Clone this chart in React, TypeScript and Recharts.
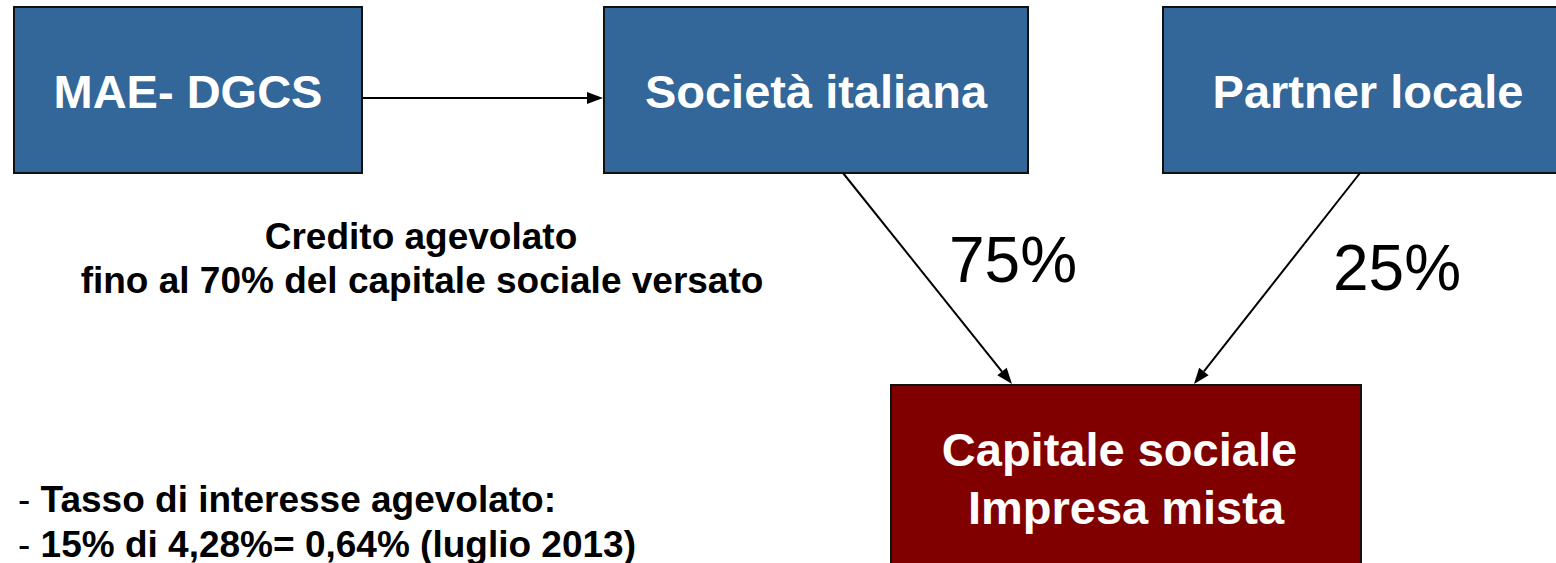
import React from "react"
import { ScatterChart, Scatter, XAxis, YAxis, ReferenceArea, ReferenceLine } from "recharts"

// nodes of the scheme (extents, in slide pixels)
const nodeNames = ["MAE- DGCS", "Società italiana", "Partner locale", "Capitale sociale\u00a0\nImpresa mista"]
const nodeLeft = [14, 604, 1163, 891]
const nodeRight = [362, 1028, 1573, 1361]
const nodeTop = [7, 7, 7, 385]
const nodeBottom = [173, 173, 173, 568]
const nodeKind = ["ente", "ente", "ente", "impresa"]

// arrows between nodes
const flowFrom = [
  { x: 363, y: 98 },
  { x: 843, y: 173 },
  { x: 1360, y: 173 },
]
const flowTo = [
  { x: 603, y: 98 },
  { x: 1012, y: 384 },
  { x: 1194, y: 384 },
]

// quote shares on the arrows
const shareLabels = ["75%", "25%"]
const shareX = [1013, 1397]
const shareY = [282, 290]

// notes
const creditLines = ["Credito agevolato", "fino al 70% del capitale sociale versato"]
const creditX = [421, 422]
const creditY = [249, 293]

const rateLines = ["Tasso di interesse agevolato:", "15% di 4,28%= 0,64% (luglio 2013)"]
const rateY = [512, 557]

const FONT = "'Liberation Sans', Arial, Helvetica, sans-serif"
const W = 1556
const H = 563

const nodeColors: Record<string, string> = { ente: "#336699", impresa: "#800000" }

const nodeLabelData = nodeNames.map((name, i) => ({
  x: (nodeLeft[i] + nodeRight[i]) / 2,
  y: (nodeTop[i] + nodeBottom[i]) / 2,
  text: name,
}))
const shareData = shareLabels.map((t, i) => ({ x: shareX[i], y: shareY[i], text: t }))
const creditData = creditLines.map((t, i) => ({ x: creditX[i], y: creditY[i], text: t }))
const rateData = rateLines.map((t, i) => ({ x: 18, y: rateY[i], text: t }))

function Arrow(props: any) {
  const { x1, y1, x2, y2 } = props
  const a = Math.atan2(y2 - y1, x2 - x1)
  const len = 16
  const half = 6
  const bx = x2 - len * Math.cos(a)
  const by = y2 - len * Math.sin(a)
  const px = -Math.sin(a) * half
  const py = Math.cos(a) * half
  return (
    <g>
      <line x1={x1} y1={y1} x2={bx} y2={by} stroke="#000" strokeWidth={2} />
      <polygon points={`${x2},${y2} ${bx + px},${by + py} ${bx - px},${by - py}`} fill="#000" />
    </g>
  )
}

function NodeLabel(props: any) {
  const { cx, cy, payload } = props
  const lines = String(payload.text).split("\n")
  const lh = 58
  const start = cy - ((lines.length - 1) * lh) / 2
  return (
    <g>
      {lines.map((l, i) => (
        <text
          key={i}
          x={cx}
          y={start + i * lh + 18}
          textAnchor="middle"
          fill="#fff"
          fontFamily={FONT}
          fontWeight="bold"
          fontSize={47}
        >
          {l}
        </text>
      ))}
    </g>
  )
}

function ShareLabel(props: any) {
  const { cx, cy, payload } = props
  return (
    <text x={cx} y={cy} textAnchor="middle" fill="#000" fontFamily={FONT} fontSize={64}>
      {payload.text}
    </text>
  )
}

function CreditLabel(props: any) {
  const { cx, cy, payload } = props
  return (
    <text x={cx} y={cy} textAnchor="middle" fill="#000" fontFamily={FONT} fontWeight="bold" fontSize={37}>
      {payload.text}
    </text>
  )
}

function RateLabel(props: any) {
  const { cx, cy, payload } = props
  return (
    <text x={cx} y={cy} fill="#000" fontFamily={FONT} fontSize={37}>
      <tspan>- </tspan>
      <tspan fontWeight="bold">{payload.text}</tspan>
    </text>
  )
}

export default function App() {
  return (
    <div style={{ width: W, height: H, background: "#fff" }}>
      <style>{`body{margin:0}`}</style>
      <ScatterChart width={W} height={H} margin={{ top: 0, right: 0, bottom: 0, left: 0 }}>
        <XAxis type="number" dataKey="x" domain={[0, W]} hide allowDataOverflow />
        <YAxis type="number" dataKey="y" domain={[0, H]} reversed hide allowDataOverflow />
        {nodeNames.map((name, i) => (
          <ReferenceArea
            key={name}
            x1={nodeLeft[i]}
            x2={nodeRight[i]}
            y1={nodeTop[i]}
            y2={nodeBottom[i]}
            fill={nodeColors[nodeKind[i]]}
            fillOpacity={1}
            stroke="#111"
            strokeWidth={2}
            ifOverflow="visible"
          />
        ))}
        {flowFrom.map((p, i) => (
          <ReferenceLine key={i} segment={[p, flowTo[i]]} ifOverflow="visible" shape={(lp: any) => <Arrow {...lp} />} />
        ))}
        <Scatter data={nodeLabelData} shape={(p: any) => <NodeLabel {...p} />} isAnimationActive={false} />
        <Scatter data={shareData} shape={(p: any) => <ShareLabel {...p} />} isAnimationActive={false} />
        <Scatter data={creditData} shape={(p: any) => <CreditLabel {...p} />} isAnimationActive={false} />
        <Scatter data={rateData} shape={(p: any) => <RateLabel {...p} />} isAnimationActive={false} />
      </ScatterChart>
    </div>
  )
}
